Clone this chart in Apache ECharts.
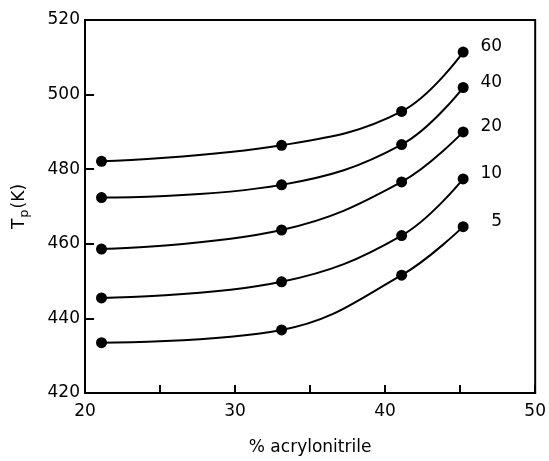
<!DOCTYPE html>
<html>
<head>
<meta charset="utf-8">
<script src="https://cdn.jsdelivr.net/npm/echarts@6/dist/echarts.min.js"></script>
<style>
html,body{margin:0;padding:0;background:#fff;}
#chart{width:549px;height:461px;}
</style>
</head>
<body>
<div id="chart"></div>
<script>
const acrylonitrile = [21.1, 33.1, 41.1, 45.2];
const seriesNames = ['60', '40', '20', '10', '5'];
const tp60 = [482.1, 486.4, 495.5, 511.4];
const tp40 = [472.4, 475.8, 486.6, 501.9];
const tp20 = [458.6, 463.7, 476.6, 490.0];
const tp10 = [445.5, 449.8, 462.2, 477.4];
const tp5  = [433.5, 436.9, 451.6, 464.6];
const xTickLabels = [20, 30, 40, 50];
const yTickLabels = [420, 440, 460, 480, 500, 520];

const allValues = [tp60, tp40, tp20, tp10, tp5];
const font = 'DejaVu Sans';

const series = allValues.map((vals, i) => ({
  name: seriesNames[i],
  type: 'line',
  data: vals.map((v, j) => [acrylonitrile[j], v]),
  smooth: 0.4,
  symbol: 'circle',
  symbolSize: 11,
  showAllSymbol: true,
  lineStyle: {color: '#000', width: 2},
  itemStyle: {color: '#000'},
  endLabel: {
    show: true,
    formatter: seriesNames[i],
    color: '#000',
    fontFamily: font,
    fontSize: 17,
    align: 'right',
    distance: 0,
    offset: [39, -5]
  }
}));

const chart = echarts.init(document.getElementById('chart'));
chart.setOption({
  animation: false,
  backgroundColor: '#fff',
  grid: {left: 85, right: 10, top: 20, bottom: 64, show: true, borderColor: '#000', borderWidth: 2},
  xAxis: {
    type: 'value', min: 20, max: 50, interval: 5,
    name: '% acrylonitrile', nameLocation: 'middle', nameGap: 46,
    nameTextStyle: {color: '#000', fontFamily: font, fontSize: 17},
    axisLine: {show: true, lineStyle: {color: '#000', width: 2}},
    axisTick: {show: true, inside: true, length: 8, lineStyle: {color: '#000', width: 2}},
    axisLabel: {color: '#000', fontFamily: font, fontSize: 17, margin: 10,
      formatter: v => xTickLabels.includes(v) ? String(v) : ''},
    splitLine: {show: false}
  },
  yAxis: {
    type: 'value', min: 420, max: 520, interval: 20,
    name: '{a|T}{b|p}{a|(K)}', nameLocation: 'middle', nameGap: 54, nameRotate: 90,
    nameTextStyle: {color: '#000', fontFamily: font, fontSize: 17,
      rich: {
        a: {fontFamily: font, fontSize: 17, color: '#000'},
        b: {fontFamily: font, fontSize: 13, color: '#000', verticalAlign: 'bottom', padding: [9, 1, 0, 1]}
      }},
    axisLine: {show: true, lineStyle: {color: '#000', width: 2}},
    axisTick: {show: true, inside: true, length: 9, lineStyle: {color: '#000', width: 2}},
    axisLabel: {color: '#000', fontFamily: font, fontSize: 17, margin: 5,
      formatter: v => yTickLabels.includes(v) ? String(v) : ''},
    splitLine: {show: false}
  },
  series: series
});
</script>
</body>
</html>
